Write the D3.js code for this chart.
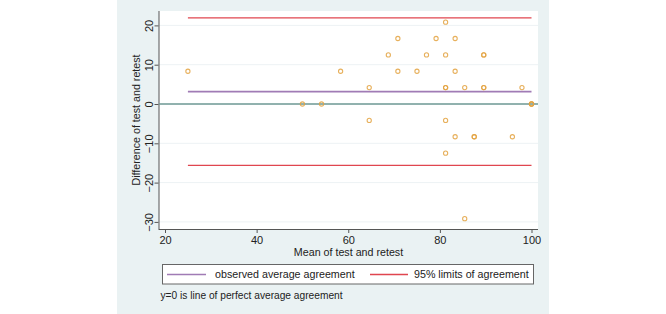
<!DOCTYPE html>
<html>
<head>
<meta charset="utf-8">
<script src="https://cdn.jsdelivr.net/npm/d3@7"></script>
<style>
  body { margin: 0; background: #fff; }
  svg { font-family: "Liberation Sans", Arial, sans-serif; }
</style>
</head>
<body>
<script>
// Bland-Altman: mean vs difference of test and retest
const meanVals = [25, 50, 54.17, 58.33, 64.58, 64.58, 68.75, 70.83, 70.83, 75, 77.08, 79.17,
  81.25, 81.25, 81.25, 81.25, 81.25, 81.25, 83.33, 83.33, 83.33, 85.42, 85.42, 87.5, 87.5,
  89.58, 89.58, 89.58, 89.58, 95.83, 97.92, 100, 100, 100];
const diffVals = [8.33, 0, 0, 8.33, 4.17, -4.17, 12.5, 16.67, 8.33, 8.33, 12.5, 16.67,
  20.83, 12.5, 4.17, 4.17, -4.17, -12.5, 16.67, 8.33, -8.33, 4.17, -29.17, -8.33, -8.33,
  12.5, 12.5, 4.17, 4.17, -8.33, 4.17, 0, 0, 0];
const meanDiff = 3.13;
const limits = [21.9, -15.6];
const xTicks = [20, 40, 60, 80, 100];
const yTicks = [20, 10, 0, -10, -20, -30];
const legendLabels = ["observed average agreement", "95% limits of agreement"];
const note = "y=0 is line of perfect average agreement";

const W = 666, H = 314;
const colBg = "#eaf2f3", colPurple = "#a07bb5", colRed = "#e0464f", colZero = "#6f9a94", colDot = "#e3a23f";

const svg = d3.select("body").append("svg").attr("width", W).attr("height", H);

// outer stata-style panel
svg.append("rect").attr("x", 117).attr("y", 0).attr("width", 432).attr("height", 314).attr("fill", colBg);

const plot = { left: 159, right: 538, top: 11, bottom: 229 };
svg.append("rect").attr("x", plot.left).attr("y", plot.top)
  .attr("width", plot.right - plot.left).attr("height", plot.bottom - plot.top).attr("fill", "#fff");

const x = d3.scaleLinear().domain([20, 100]).range([165, 531.5]);
const y = d3.scaleLinear().domain([0, 10]).range([104, 64.7]);

// gridlines
svg.append("g").selectAll("line").data(yTicks).join("line")
  .attr("x1", plot.left).attr("x2", plot.right)
  .attr("y1", d => y(d)).attr("y2", d => y(d))
  .attr("stroke", "#edf2f4").attr("stroke-width", 1);

// axes
const xAxis = svg.append("g").attr("transform", `translate(0,${plot.bottom})`)
  .call(d3.axisBottom(x).tickValues(xTicks).tickSize(4).tickPadding(3));
xAxis.select(".domain").attr("d", `M${plot.left - 0.5},0.5H${plot.right}`);
const yAxis = svg.append("g").attr("transform", `translate(${plot.left - 0.5},0)`)
  .call(d3.axisLeft(y).tickValues(yTicks).tickSize(4).tickPadding(3));
yAxis.select(".domain").attr("d", `M0.5,${plot.top}V${plot.bottom}`);
[xAxis, yAxis].forEach(a => {
  a.selectAll(".domain, .tick line").attr("stroke", "#555");
  a.selectAll("text").attr("fill", "#222").style("font-size", "11px").style("font-family", "inherit");
});
yAxis.selectAll(".tick text")
  .attr("transform", function () { return `translate(${-9},0) rotate(-90)`; })
  .attr("x", 0).attr("dy", "0.32em").attr("text-anchor", "middle");

// axis titles
svg.append("text").attr("x", (plot.left + plot.right) / 2).attr("y", 256)
  .attr("text-anchor", "middle").attr("font-size", 10.7).attr("fill", "#222")
  .text("Mean of test and retest");
svg.append("text").attr("transform", `translate(140,${(plot.top + plot.bottom) / 2}) rotate(-90)`)
  .attr("text-anchor", "middle").attr("font-size", 10.7).attr("fill", "#222")
  .text("Difference of test and retest");

// zero line
svg.append("line").attr("x1", plot.left).attr("x2", plot.right)
  .attr("y1", y(0)).attr("y2", y(0)).attr("stroke", colZero).attr("stroke-width", 1.4);

// agreement lines
svg.append("line").attr("x1", x(25)).attr("x2", x(100))
  .attr("y1", y(meanDiff)).attr("y2", y(meanDiff)).attr("stroke", colPurple).attr("stroke-width", 1.7);
svg.append("g").selectAll("line").data(limits).join("line")
  .attr("x1", x(25)).attr("x2", x(100))
  .attr("y1", d => y(d)).attr("y2", d => y(d)).attr("stroke", colRed).attr("stroke-width", 1.3);

// points
svg.append("g").selectAll("circle").data(meanVals).join("circle")
  .attr("cx", d => x(d)).attr("cy", (d, i) => y(diffVals[i])).attr("r", 2.1)
  .attr("fill", "none").attr("stroke", colDot).attr("stroke-width", 1.1).attr("stroke-opacity", 0.85);

// legend
const leg = svg.append("g");
leg.append("rect").attr("x", 162.5).attr("y", 264.5).attr("width", 371).attr("height", 19.5)
  .attr("fill", "#fff").attr("stroke", "#666").attr("stroke-width", 1);
const items = [{ x1: 167, x2: 206, tx: 215, c: colPurple }, { x1: 370, x2: 408, tx: 414, c: colRed }];
items.forEach((it, i) => {
  leg.append("line").attr("x1", it.x1).attr("x2", it.x2).attr("y1", 274.5).attr("y2", 274.5)
    .attr("stroke", it.c).attr("stroke-width", 1.3);
  leg.append("text").attr("x", it.tx).attr("y", 278.3).attr("font-size", 10.7).attr("fill", "#222")
    .text(legendLabels[i]);
});

svg.append("text").attr("x", 160.5).attr("y", 299).attr("font-size", 10.2).attr("fill", "#222").text(note);
</script>
</body>
</html>
